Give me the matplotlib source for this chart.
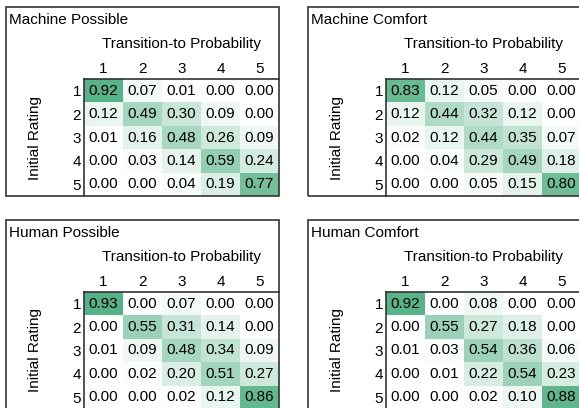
import matplotlib.pyplot as plt
import numpy as np
from matplotlib.colors import LinearSegmentedColormap
from matplotlib.patches import Rectangle

plt.rcParams['font.family'] = ['Liberation Sans', 'DejaVu Sans']

titles = ['Machine Possible', 'Machine Comfort', 'Human Possible', 'Human Comfort']
ratings = ['1', '2', '3', '4', '5']

machine_possible = [[0.92, 0.07, 0.01, 0.00, 0.00],
                    [0.12, 0.49, 0.30, 0.09, 0.00],
                    [0.01, 0.16, 0.48, 0.26, 0.09],
                    [0.00, 0.03, 0.14, 0.59, 0.24],
                    [0.00, 0.00, 0.04, 0.19, 0.77]]
machine_comfort = [[0.83, 0.12, 0.05, 0.00, 0.00],
                   [0.12, 0.44, 0.32, 0.12, 0.00],
                   [0.02, 0.12, 0.44, 0.35, 0.07],
                   [0.00, 0.04, 0.29, 0.49, 0.18],
                   [0.00, 0.00, 0.05, 0.15, 0.80]]
human_possible = [[0.93, 0.00, 0.07, 0.00, 0.00],
                  [0.00, 0.55, 0.31, 0.14, 0.00],
                  [0.01, 0.09, 0.48, 0.34, 0.09],
                  [0.00, 0.02, 0.20, 0.51, 0.27],
                  [0.00, 0.00, 0.02, 0.12, 0.86]]
human_comfort = [[0.92, 0.00, 0.08, 0.00, 0.00],
                 [0.00, 0.55, 0.27, 0.18, 0.00],
                 [0.01, 0.03, 0.54, 0.36, 0.06],
                 [0.00, 0.01, 0.22, 0.54, 0.23],
                 [0.00, 0.00, 0.02, 0.10, 0.88]]
matrices = [machine_possible, machine_comfort, human_possible, human_comfort]

W, H = 579, 408
fig = plt.figure(figsize=(W / 100, H / 100), dpi=100)
cmap = LinearSegmentedColormap.from_list('wg', ['#ffffff', '#4aad7e'])


def fx(px):
    return px / W


def fy(py):
    return 1 - py / H


offsets = [(0, 0), (302, 0), (0, 213), (302, 213)]
for title, mat, (ox, oy) in zip(titles, matrices, offsets):
    hx0, hy0, hw, hh = 84 + ox, 79 + oy, 195, 117
    # outer box
    fig.patches.append(Rectangle((fx(6 + ox), fy(hy0 + hh)), fx(hx0 + hw - 6 - ox),
                                 (hy0 + hh - 7 - oy) / H,
                                 transform=fig.transFigure, fill=False,
                                 edgecolor='#333333', lw=1.2))
    ax = fig.add_axes([fx(hx0), fy(hy0 + hh), fx(hw), hh / H])
    data = np.array(mat)
    ax.imshow(data, cmap=cmap, vmin=0, vmax=1, aspect='auto')
    for i in range(5):
        for j in range(5):
            ax.text(j, i, f'{data[i, j]:.2f}', ha='center', va='center', fontsize=11)
    ax.set_xticks(range(5))
    ax.set_xticklabels(ratings, fontsize=11)
    ax.set_yticks(range(5))
    ax.set_yticklabels(ratings, fontsize=11)
    ax.xaxis.tick_top()
    ax.tick_params(length=0, pad=2)
    for s in ['right', 'bottom']:
        ax.spines[s].set_visible(False)
    for s in ['left', 'top']:
        ax.spines[s].set_color('#333333')
        ax.spines[s].set_linewidth(1.2)
    fig.text(fx(9 + ox), fy(20 + oy), title, ha='left', va='center', fontsize=11)
    fig.text(fx(hx0 + hw / 2), fy(44 + oy), 'Transition-to Probability',
             ha='center', va='center', fontsize=11)
    fig.text(fx(35 + ox), fy(hy0 + hh / 2), 'Initial Rating', rotation=90,
             ha='center', va='center', fontsize=11)

fig.savefig('out.png', dpi=100)
